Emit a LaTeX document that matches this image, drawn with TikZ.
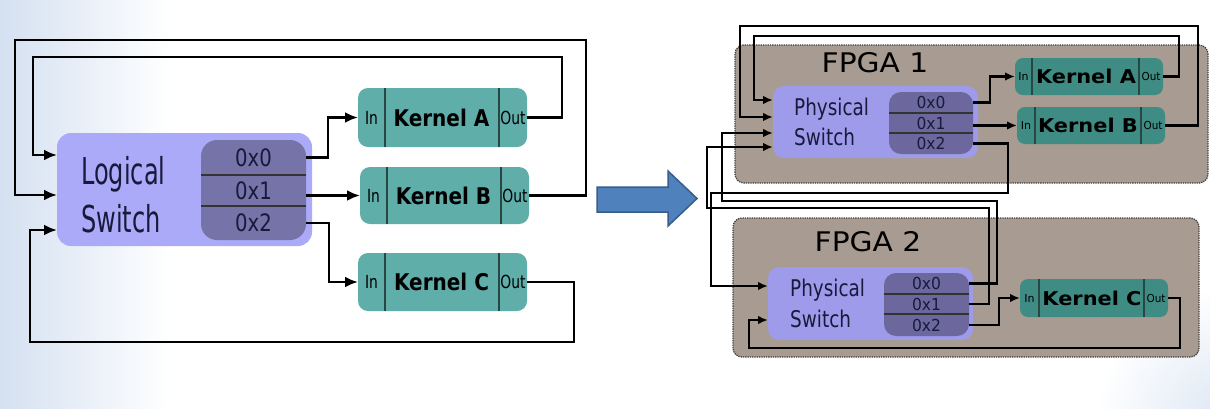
\documentclass[tikz,border=0pt]{standalone}
\usepackage{fontspec}
\usepackage{graphicx}
\setmainfont{DejaVu Sans}
\usetikzlibrary{arrows.meta,calc}
\newcommand{\mytxt}[3]{\scalebox{#2}[1]{\fontsize{#1}{#1}\selectfont #3}}
\definecolor{kernL}{RGB}{95,174,170}
\definecolor{kernR}{RGB}{62,140,132}
\definecolor{lswOut}{RGB}{170,170,248}
\definecolor{lswIn}{RGB}{117,115,168}
\definecolor{rswOut}{RGB}{158,156,234}
\definecolor{rswIn}{RGB}{108,104,158}
\definecolor{fpgaC}{RGB}{168,155,145}
\definecolor{arrowblue}{RGB}{79,129,189}
\definecolor{arrowdark}{RGB}{56,93,138}
\definecolor{txtnavy}{RGB}{25,25,60}
\definecolor{bgblue}{RGB}{212,224,241}
\definecolor{divC}{RGB}{40,70,66}
\begin{document}
\begin{tikzpicture}[x=1pt,y=-1pt,
  box/.style={inner sep=0pt, outer sep=0pt},
  lsw/.style={box, fill=lswOut, rounded corners=14pt},
  lin/.style={box, fill=lswIn, rounded corners=16pt},
  rsw/.style={box, fill=rswOut, rounded corners=11pt},
  rin/.style={box, fill=rswIn, rounded corners=12pt},
  rowcell/.style={box, text=txtnavy},
  rowline/.style={draw=black!80, line width=1.3pt},
  kL/.style={box, fill=kernL, rounded corners=10pt},
  kR/.style={box, fill=kernR, rounded corners=8pt},
  divL/.style={draw=divC, line width=1.2pt},
  fpga/.style={box, fill=fpgaC, draw=black!75, densely dotted, line width=1.3pt, rounded corners=9pt},
  wireL/.style={draw=black, line width=2.7pt, -{Latex[length=13pt,width=11pt]}},
  wireR/.style={draw=black, line width=2.1pt, -{Latex[length=10pt,width=8.5pt]}},
  lbl/.style={inner sep=0pt, text=txtnavy}
]
\useasboundingbox (0,0) rectangle (1210,408);
\fill[white] (0,0) rectangle (1210,408);
\begin{scope}
  \clip (0,0) rectangle (1210,408);
  \shade[left color=bgblue, right color=white] (0,0) rectangle (170,408);
  \shade[inner color=bgblue!85, outer color=white] (1235,425) circle (140);
\end{scope}

% ---------------- Left: logical switch ----------------
\node[lsw, minimum width=255, minimum height=113] (ls) at (184.5,189.5) {};
\node[lin, minimum width=105, minimum height=100] (lsin) at (253.5,190) {};
\node[rowcell, minimum width=105, minimum height=35] (l0) at (253.5,157.5) {\mytxt{24}{0.82}{0x0}};
\node[rowcell, minimum width=105, minimum height=31] (l1) at (253.5,190.5) {\mytxt{24}{0.82}{0x1}};
\node[rowcell, minimum width=105, minimum height=34] (l2) at (253.5,223) {\mytxt{24}{0.82}{0x2}};
\draw[rowline] (l0.south west) -- (l0.south east);
\draw[rowline] (l1.south west) -- (l1.south east);
\node[lbl, anchor=base west] (lt1) at (81,184) {\mytxt{37}{0.65}{Logical}};
\node[lbl, anchor=base west] (lt2) at (81,232) {\mytxt{37}{0.65}{Switch}};

% kernels (left)
\node[kL, minimum width=169, minimum height=59] (kA) at (442.5,117.5) {};
\node[kL, minimum width=169, minimum height=57] (kB) at (444.5,195.5) {};
\node[kL, minimum width=169, minimum height=58] (kC) at (442.5,282) {};
\foreach \k in {kA,kB,kC}{
  \draw[divL] ([xshift=27pt]\k.north west) -- ([xshift=27pt]\k.south west);
  \draw[divL] ([xshift=-28pt]\k.north east) -- ([xshift=-28pt]\k.south east);
}
\node (kAi) at ([xshift=13.5pt]kA.west) {\mytxt{18}{0.77}{In}};
\node (kAo) at ([xshift=-14pt]kA.east) {\mytxt{18}{0.77}{Out}};
\node (kAt) at ([xshift=-1pt]kA.center) {\mytxt{23}{0.87}{\bfseries Kernel A}};
\node (kBi) at ([xshift=13.5pt]kB.west) {\mytxt{18}{0.77}{In}};
\node (kBo) at ([xshift=-14pt]kB.east) {\mytxt{18}{0.77}{Out}};
\node (kBt) at ([xshift=-1pt]kB.center) {\mytxt{23}{0.87}{\bfseries Kernel B}};
\node (kCi) at ([xshift=13.5pt]kC.west) {\mytxt{18}{0.77}{In}};
\node (kCo) at ([xshift=-14pt]kC.east) {\mytxt{18}{0.77}{Out}};
\node (kCt) at ([xshift=-1pt]kC.center) {\mytxt{23}{0.87}{\bfseries Kernel C}};

% wires (left)
\draw[wireL] (l0.east) -- ++(22,0) |- (kA.west);
\draw[wireL] (l1.east |- kB.west) -- (kB.west);
\draw[wireL] (l2.east) -- ++(23,0) |- (kC.west);
\draw[wireL] (kA.east) -- ++(35,0) |- (33,57) |- (ls.west |- 0,155);
\draw[wireL] (kB.east) -- ++(57,0) |- (15,40) |- (ls.west |- 0,195);
\draw[wireL] (kC.east) -- ++(47,0) |- (30,342) |- (ls.west |- 0,230);

% ---------------- big arrow ----------------
\filldraw[fill=arrowblue, draw=arrowdark, line width=1.5pt, line join=miter]
  (597,187) -- (668,187) -- (668,171) -- (697,198.5) -- (668,226) -- (668,212) -- (597,212) -- cycle;

% ---------------- Right: FPGAs ----------------
\node[fpga, minimum width=473, minimum height=138] (F1) at (971.5,114) {};
\node[fpga, minimum width=466, minimum height=139] (F2) at (966,287.5) {};
\node (F1t) at (875,63) {\mytxt{27}{1.1}{FPGA 1}};
\node (F2t) at (868,242) {\mytxt{27}{1.1}{FPGA 2}};

% physical switch 1
\node[rsw, minimum width=205, minimum height=72] (P1) at (875.5,122) {};
\node[rin, minimum width=84, minimum height=62] (P1in) at (931,123) {};
\node[rowcell, minimum width=84, minimum height=21] (r10) at (931,102.5) {\mytxt{16.5}{0.94}{0x0}};
\node[rowcell, minimum width=84, minimum height=20] (r11) at (931,123) {\mytxt{16.5}{0.94}{0x1}};
\node[rowcell, minimum width=84, minimum height=21] (r12) at (931,143.5) {\mytxt{16.5}{0.94}{0x2}};
\draw[rowline] (r10.south west) -- (r10.south east);
\draw[rowline] (r11.south west) -- (r11.south east);
\node[lbl, anchor=base west] (p1a) at (794,115) {\mytxt{23}{0.8}{Physical}};
\node[lbl, anchor=base west] (p1b) at (794,145) {\mytxt{23}{0.8}{Switch}};

% physical switch 2
\node[rsw, minimum width=205, minimum height=73] (P2) at (870.5,303.5) {};
\node[rin, minimum width=85, minimum height=63] (P2in) at (926.5,304.5) {};
\node[rowcell, minimum width=85, minimum height=21] (r20) at (926.5,283.5) {\mytxt{16.5}{0.94}{0x0}};
\node[rowcell, minimum width=85, minimum height=20] (r21) at (926.5,304) {\mytxt{16.5}{0.94}{0x1}};
\node[rowcell, minimum width=85, minimum height=22] (r22) at (926.5,325) {\mytxt{16.5}{0.94}{0x2}};
\draw[rowline] (r20.south west) -- (r20.south east);
\draw[rowline] (r21.south west) -- (r21.south east);
\node[lbl, anchor=base west] (p2a) at (790,296) {\mytxt{23}{0.8}{Physical}};
\node[lbl, anchor=base west] (p2b) at (790,327) {\mytxt{23}{0.8}{Switch}};

% kernels (right)
\node[kR, minimum width=148, minimum height=37] (kA1) at (1089,76.5) {};
\node[kR, minimum width=148, minimum height=37] (kB1) at (1091,125.5) {};
\node[kR, minimum width=148, minimum height=38] (kC2) at (1094,298) {};
\draw[divL] ([xshift=17pt]kA1.north west) -- ([xshift=17pt]kA1.south west);
\draw[divL] ([xshift=-24pt]kA1.north east) -- ([xshift=-24pt]kA1.south east);
\draw[divL] ([xshift=18pt]kB1.north west) -- ([xshift=18pt]kB1.south west);
\draw[divL] ([xshift=-24pt]kB1.north east) -- ([xshift=-24pt]kB1.south east);
\draw[divL] ([xshift=19pt]kC2.north west) -- ([xshift=19pt]kC2.south west);
\draw[divL] ([xshift=-24pt]kC2.north east) -- ([xshift=-24pt]kC2.south east);
\node (kA1i) at ([xshift=8.5pt]kA1.west) {\mytxt{11}{1.0}{In}};
\node (kA1o) at ([xshift=-12pt]kA1.east) {\mytxt{11}{0.95}{Out}};
\node (kA1t) at ([xshift=-3pt]kA1.center) {\mytxt{19}{1.1}{\bfseries Kernel A}};
\node (kB1i) at ([xshift=9pt]kB1.west) {\mytxt{11}{1.0}{In}};
\node (kB1o) at ([xshift=-12pt]kB1.east) {\mytxt{11}{0.95}{Out}};
\node (kB1t) at ([xshift=-3pt]kB1.center) {\mytxt{19}{1.1}{\bfseries Kernel B}};
\node (kC2i) at ([xshift=9.5pt]kC2.west) {\mytxt{11}{1.0}{In}};
\node (kC2o) at ([xshift=-12pt]kC2.east) {\mytxt{11}{0.95}{Out}};
\node (kC2t) at ([xshift=-2pt]kC2.center) {\mytxt{19}{1.1}{\bfseries Kernel C}};

% wires (right)
\draw[wireR] (r10.east) -- ++(17,0) |- (kA1.west);
\draw[wireR] (r11.east |- kB1.west) -- (kB1.west);
\draw[wireR] (kA1.east) -- ++(16,0) |- (754,36) |- (P1.west |- 0,100);
\draw[wireR] (kB1.east) -- ++(33,0) |- (740,26) |- (P1.west |- 0,117);
\draw[wireR] (r12.east) -- ++(35,0) |- (711,193) |- (P2.west |- 0,286);
\draw[wireR] (r20.east) -- ++(28,0) |- (722,201) |- (P1.west |- 0,133);
\draw[wireR] (r21.east) -- ++(20,0) |- (707,208) |- (P1.west |- 0,147);
\draw[wireR] (r22.east) -- ++(30,0) |- (kC2.west);
\draw[wireR] (kC2.east) -- ++(12,0) |- (749,348) |- (P2.west |- 0,320);
\end{tikzpicture}
\end{document}
